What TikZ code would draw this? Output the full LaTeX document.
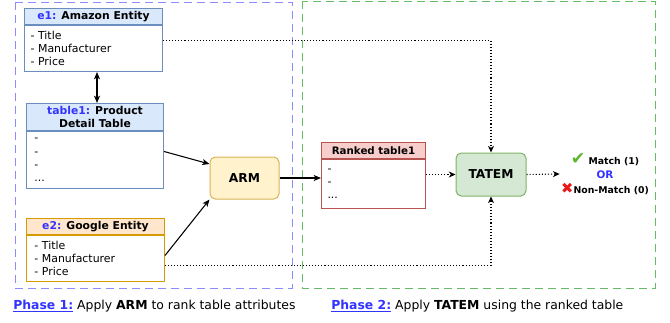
\documentclass[tikz,border=0pt]{standalone}
\usepackage{fontspec}
\setmainfont{DejaVu Sans}
\usetikzlibrary{positioning,arrows.meta}

\definecolor{keyblue}{HTML}{3333FF}
\definecolor{bluefill}{HTML}{DAE8FC}
\definecolor{bluedraw}{HTML}{6C8EBF}
\definecolor{orangefill}{HTML}{FFE6CC}
\definecolor{orangedraw}{HTML}{D79B00}
\definecolor{yellowfill}{HTML}{FFF2CC}
\definecolor{yellowdraw}{HTML}{D6B656}
\definecolor{redfill}{HTML}{F8CECC}
\definecolor{reddraw}{HTML}{B85450}
\definecolor{greenfill}{HTML}{D5E8D4}
\definecolor{greendraw}{HTML}{82B366}
\definecolor{phaseone}{HTML}{8C8CFF}
\definecolor{phasetwo}{HTML}{66BB66}
\definecolor{okgreen}{HTML}{5CB82A}
\definecolor{nored}{HTML}{E81818}

\begin{document}
\begin{tikzpicture}[x=0.75pt, y=-0.75pt,
	hdr/.style={draw=#1, line width=0.75pt, anchor=north west, inner sep=0pt, align=center, font=\bfseries\fontsize{8.1}{9.9}\selectfont},
	bdy/.style={draw=#1, line width=0.75pt, anchor=north west, fill=white, inner xsep=4.5pt, inner ysep=0pt, align=left, font=\fontsize{8.2}{9.9}\selectfont},
	proc/.style={draw=#1, line width=0.75pt, rounded corners=4pt, font=\bfseries\fontsize{9.2}{11}\selectfont},
	frame/.style={draw=#1, line width=0.75pt, dash pattern=on 6pt off 3.75pt},
	dots/.style={-{Stealth[length=5pt,width=4.5pt,inset=1.5pt]}, line width=0.8pt, dash pattern=on 0.8pt off 1.5pt},
	arr/.style={-{Stealth[length=5.5pt,width=4.5pt,inset=1.5pt]}, line width=0.8pt}]
	\useasboundingbox (0,0) rectangle (670,322);
	% phase frames
	\draw[frame=phaseone] (15,2) rectangle (292,288);
	\draw[frame=phasetwo] (302,1) rectangle (655,288);
	% phase 1
	\node[hdr=bluedraw, fill=bluefill, minimum width=103.5pt, minimum height=12pt] (e1h) at (24,8) {\textcolor{keyblue}{e1:} Amazon Entity};
	\node[bdy=bluedraw, text width=94.5pt, minimum height=34.5pt] (e1b) at (e1h.south west) {- Title\\- Manufacturer\\- Price};
	\node[hdr=bluedraw, fill=bluefill, minimum width=102.75pt, minimum height=20.25pt] (t1h) at (26,103) {\textcolor{keyblue}{table1:} Product\\Detail Table};
	\node[bdy=bluedraw, text width=93.75pt, minimum height=42.75pt] (t1b) at (t1h.south west) {\,-\\\,-\\\,-\\\,...};
	\node[hdr=orangedraw, fill=orangefill, minimum width=103.5pt, minimum height=12pt] (e2h) at (26,218) {\textcolor{keyblue}{e2:} Google Entity};
	\node[bdy=orangedraw, text width=94.5pt, minimum height=34.5pt] (e2b) at (e2h.south west) {\,- Title\\\,- Manufacturer\\\,- Price};
	\node[proc=yellowdraw, fill=yellowfill, minimum width=51.75pt, minimum height=31.5pt] (arm) at (244.5,178) {ARM};
	% phase 2
	\node[hdr=reddraw, fill=redfill, minimum width=78pt, minimum height=12pt, font=\bfseries\fontsize{7.7}{9}\selectfont] (rkh) at (321,142) {Ranked table1};
	\node[bdy=reddraw, text width=69pt, minimum height=36.75pt] (rkb) at (rkh.south west) {-\\-\\...};
	\node[proc=greendraw, fill=greenfill, minimum width=52.5pt, minimum height=32.25pt] (tatem) at (491,174.5) {TATEM};
	\node[align=center, inner sep=1pt, font=\bfseries\fontsize{7}{10.9}\selectfont] (out) at (605,174) {{\fontsize{13}{10}\selectfont\textcolor{okgreen}{✔}} Match (1)\\\textcolor{keyblue}{\fontsize{7.8}{10.9}\selectfont OR}\\{\fontsize{11}{10}\selectfont\textcolor{nored}{✖}}Non-Match (0)};
	% connectors
	\draw[{Stealth[length=5.5pt,width=4.5pt,inset=1.5pt]}-{Stealth[length=5.5pt,width=4.5pt,inset=1.5pt]}, line width=0.8pt] (e1b.south -| 97,0) -- (t1h.north -| 97,0);
	\draw[arr] ([yshift=6.4pt]t1b.east) -- ([yshift=10.5pt]arm.west);
	\draw[arr] ([yshift=2.25pt]e2b.east) -- (arm.south west);
	\draw[arr] (arm.east) -- (arm.east -| rkb.west);
	\draw[dots] (tatem.west -| rkb.east) -- (tatem.west);
	\draw[dots] (tatem.east) -- (out.west);
	\draw[dots] ([yshift=6pt]e1b.east) -| (tatem.north);
	\draw[dots] ([yshift=-5.25pt]e2b.east) -| (tatem.south);
	% captions
	\node[anchor=west, inner sep=0pt, font=\fontsize{9.3}{11}\selectfont] (cap1) at (13,306) {\textcolor{keyblue}{\bfseries\underline{Phase 1:}} Apply \textbf{ARM} to rank table attributes};
	\node[anchor=west, inner sep=0pt, font=\fontsize{9.3}{11}\selectfont] (cap2) at (331,306) {\textcolor{keyblue}{\bfseries\underline{Phase 2:}} Apply \textbf{TATEM} using the ranked table};
\end{tikzpicture}
\end{document}
